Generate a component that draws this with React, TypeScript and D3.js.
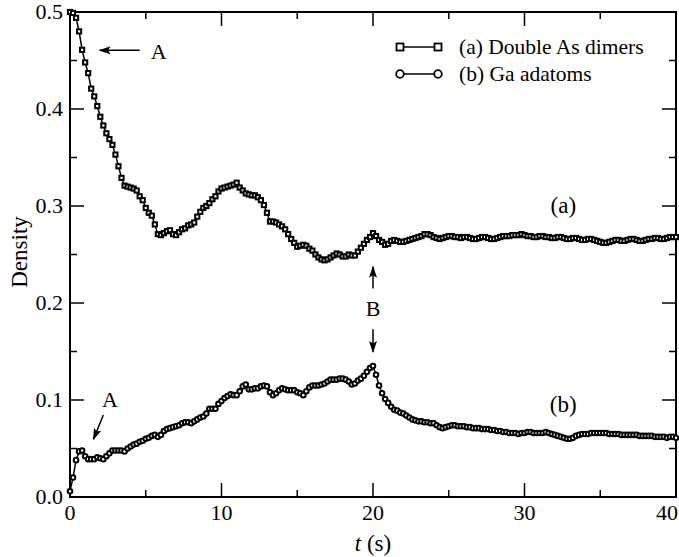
import React from "react";
import * as d3 from "d3";

// sampling step of both series (s)
const TIME_STEP = 0.2;

// (a) Double As dimers, t = 0 .. 40 s
const dimers = [
  0.500, 0.499, 0.494, 0.480, 0.461, 0.448, 0.437, 0.421, 0.413, 0.403,
  0.392, 0.383, 0.375, 0.369, 0.363, 0.353, 0.341, 0.329, 0.321, 0.320,
  0.319, 0.318, 0.316, 0.310, 0.306, 0.298, 0.293, 0.290, 0.281, 0.271,
  0.270, 0.272, 0.274, 0.275, 0.271, 0.270, 0.273, 0.276, 0.277, 0.280,
  0.281, 0.283, 0.289, 0.294, 0.298, 0.300, 0.303, 0.307, 0.310, 0.315,
  0.318, 0.319, 0.320, 0.321, 0.322, 0.324, 0.319, 0.316, 0.313, 0.312,
  0.311, 0.311, 0.309, 0.306, 0.301, 0.293, 0.284, 0.284, 0.283, 0.281,
  0.279, 0.276, 0.271, 0.266, 0.262, 0.258, 0.259, 0.260, 0.259, 0.256,
  0.254, 0.250, 0.247, 0.245, 0.244, 0.245, 0.247, 0.249, 0.251, 0.250,
  0.248, 0.248, 0.250, 0.249, 0.249, 0.253, 0.257, 0.261, 0.265, 0.268,
  0.272, 0.269, 0.265, 0.263, 0.260, 0.261, 0.264, 0.265, 0.264, 0.263,
  0.263, 0.264, 0.265, 0.266, 0.267, 0.268, 0.269, 0.271, 0.271, 0.270,
  0.268, 0.267, 0.266, 0.267, 0.268, 0.269, 0.269, 0.268, 0.268, 0.267,
  0.268, 0.268, 0.267, 0.266, 0.266, 0.267, 0.268, 0.268, 0.267, 0.266,
  0.266, 0.267, 0.268, 0.269, 0.269, 0.269, 0.270, 0.270, 0.270, 0.271,
  0.270, 0.269, 0.269, 0.268, 0.268, 0.269, 0.269, 0.268, 0.268, 0.267,
  0.267, 0.268, 0.268, 0.267, 0.266, 0.266, 0.267, 0.267, 0.266, 0.265,
  0.265, 0.266, 0.266, 0.265, 0.264, 0.263, 0.262, 0.262, 0.263, 0.264,
  0.265, 0.265, 0.264, 0.264, 0.265, 0.266, 0.266, 0.265, 0.264, 0.264,
  0.265, 0.266, 0.266, 0.267, 0.267, 0.266, 0.266, 0.267, 0.268, 0.268,
  0.268,
];

// (b) Ga adatoms, t = 0 .. 40 s
const adatoms = [
  0.006, 0.020, 0.038, 0.047, 0.048, 0.042, 0.039, 0.039, 0.039, 0.041,
  0.040, 0.039, 0.042, 0.045, 0.048, 0.048, 0.048, 0.048, 0.047, 0.050,
  0.052, 0.054, 0.055, 0.057, 0.058, 0.060, 0.061, 0.063, 0.064, 0.062,
  0.064, 0.068, 0.070, 0.071, 0.072, 0.073, 0.074, 0.076, 0.077, 0.077,
  0.076, 0.078, 0.080, 0.082, 0.083, 0.086, 0.091, 0.091, 0.091, 0.096,
  0.099, 0.102, 0.104, 0.106, 0.105, 0.105, 0.109, 0.114, 0.116, 0.111,
  0.111, 0.112, 0.112, 0.114, 0.115, 0.114, 0.108, 0.105, 0.107, 0.110,
  0.112, 0.111, 0.110, 0.110, 0.110, 0.108, 0.107, 0.105, 0.109, 0.113,
  0.115, 0.115, 0.115, 0.116, 0.117, 0.119, 0.121, 0.121, 0.121, 0.122,
  0.122, 0.121, 0.119, 0.116, 0.117, 0.120, 0.122, 0.125, 0.129, 0.133,
  0.135, 0.126, 0.115, 0.107, 0.101, 0.097, 0.093, 0.090, 0.089, 0.087,
  0.086, 0.084, 0.082, 0.080, 0.079, 0.078, 0.078, 0.077, 0.077, 0.076,
  0.076, 0.074, 0.072, 0.071, 0.072, 0.073, 0.074, 0.074, 0.073, 0.073,
  0.073, 0.072, 0.072, 0.071, 0.071, 0.071, 0.070, 0.070, 0.070, 0.069,
  0.069, 0.068, 0.068, 0.067, 0.067, 0.066, 0.066, 0.066, 0.065, 0.066,
  0.066, 0.067, 0.067, 0.066, 0.066, 0.066, 0.066, 0.067, 0.066, 0.065,
  0.064, 0.063, 0.062, 0.061, 0.060, 0.060, 0.061, 0.063, 0.064, 0.065,
  0.065, 0.065, 0.066, 0.066, 0.066, 0.066, 0.066, 0.066, 0.065, 0.065,
  0.065, 0.065, 0.064, 0.064, 0.064, 0.064, 0.064, 0.064, 0.063, 0.063,
  0.063, 0.063, 0.063, 0.062, 0.062, 0.062, 0.062, 0.061, 0.062, 0.062,
  0.061,
];

const xMajorTicks = [0, 10, 20, 30, 40];
const xMinorTicks = [5, 15, 25, 35];
const yMajorTicks = [0, 0.1, 0.2, 0.3, 0.4, 0.5];
const yMinorTicks = [0.05, 0.15, 0.25, 0.35, 0.45];
const yTickLabels = ["0.0", "0.1", "0.2", "0.3", "0.4", "0.5"];
const legendLabels = ["(a) Double As dimers", "(b) Ga adatoms"];
const curveLabels = ["(a)", "(b)"];

const FONT = "'Liberation Serif', 'DejaVu Serif', serif";

export default function App() {
  const W = 679;
  const H = 557;
  const x = d3.scaleLinear().domain([0, 40]).range([70, 676]);
  const y = d3.scaleLinear().domain([0, 0.5]).range([497, 12]);
  const x0 = x.range()[0], x1 = x.range()[1];
  const y0 = y.range()[0], y1 = y.range()[1];

  const ptsA = dimers.map((v, i) => [i * TIME_STEP, v] as [number, number]);
  const ptsB = adatoms.map((v, i) => [i * TIME_STEP, v] as [number, number]);
  const line = d3
    .line<[number, number]>()
    .x((d) => x(d[0]))
    .y((d) => y(d[1]));

  const MAJ = 14;
  const MIN = 7;
  const sq = 4.2;
  const TICK_FS = 22;

  const arrow = (xa: number, ya: number, xb: number, yb: number, key: string) => (
    <line
      key={key}
      x1={x(xa)}
      y1={y(ya)}
      x2={x(xb)}
      y2={y(yb)}
      stroke="#000"
      strokeWidth={1.5}
      markerEnd="url(#ah)"
    />
  );

  return (
    <svg
      width={W}
      height={H}
      style={{ position: "absolute", left: 0, top: 0, background: "#fff" }}
      fontFamily={FONT}
    >
      <defs>
        <marker
          id="ah"
          viewBox="0 0 12 8"
          refX="11"
          refY="4"
          markerWidth="12"
          markerHeight="8"
          markerUnits="userSpaceOnUse"
          orient="auto"
        >
          <path d="M0,0 L12,4 L0,8 L2.5,4 Z" fill="#000" />
        </marker>
      </defs>
      <rect x={0} y={0} width={W} height={H} fill="#fff" />

      {/* ticks */}
      <g stroke="#000" strokeWidth={1.5}>
        {xMajorTicks.map((t) => (
          <g key={"xm" + t}>
            <line x1={x(t)} x2={x(t)} y1={y0} y2={y0 - MAJ} />
            <line x1={x(t)} x2={x(t)} y1={y1} y2={y1 + MAJ} />
          </g>
        ))}
        {xMinorTicks.map((t) => (
          <g key={"xn" + t}>
            <line x1={x(t)} x2={x(t)} y1={y0} y2={y0 - MIN} />
            <line x1={x(t)} x2={x(t)} y1={y1} y2={y1 + MIN} />
          </g>
        ))}
        {yMajorTicks.map((t) => (
          <g key={"ym" + t}>
            <line x1={x0} x2={x0 + MAJ} y1={y(t)} y2={y(t)} />
            <line x1={x1} x2={x1 - MAJ} y1={y(t)} y2={y(t)} />
          </g>
        ))}
        {yMinorTicks.map((t) => (
          <g key={"yn" + t}>
            <line x1={x0} x2={x0 + MIN} y1={y(t)} y2={y(t)} />
            <line x1={x1} x2={x1 - MIN} y1={y(t)} y2={y(t)} />
          </g>
        ))}
      </g>

      {/* frame */}
      <rect
        x={x0}
        y={y1}
        width={x1 - x0}
        height={y0 - y1}
        fill="none"
        stroke="#000"
        strokeWidth={2}
      />

      {/* tick labels */}
      <g fontSize={TICK_FS} fill="#000">
        {xMajorTicks.map((t, i) => {
          const last = i === xMajorTicks.length - 1;
          return (
            <text
              key={"xl" + t}
              x={last ? W - 1 : x(t)}
              y={y0 + 23}
              textAnchor={last ? "end" : "middle"}
            >
              {t}
            </text>
          );
        })}
        {yMajorTicks.map((t, i) => (
          <text key={"yl" + t} x={x0 - 7} y={y(t) + 7} textAnchor="end">
            {yTickLabels[i]}
          </text>
        ))}
      </g>

      {/* axis titles */}
      <text
        x={(x0 + x1) / 2}
        y={551}
        fontSize={23}
        textAnchor="middle"
        fill="#000"
      >
        <tspan fontStyle="italic">t</tspan> (s)
      </text>
      <text
        transform={`translate(27,${252}) rotate(-90)`}
        fontSize={23}
        textAnchor="middle"
        fill="#000"
      >
        Density
      </text>

      {/* series a */}
      <path d={line(ptsA) || ""} fill="none" stroke="#000" strokeWidth={1.5} />
      <g fill="#fff" stroke="#000" strokeWidth={2}>
        {ptsA.map((p, i) => (
          <rect
            key={"a" + i}
            x={x(p[0]) - sq / 2}
            y={y(p[1]) - sq / 2}
            width={sq}
            height={sq}
          />
        ))}
      </g>

      {/* series b */}
      <path d={line(ptsB) || ""} fill="none" stroke="#000" strokeWidth={1.5} />
      <g fill="#fff" stroke="#000" strokeWidth={2}>
        {ptsB.map((p, i) => (
          <circle key={"b" + i} cx={x(p[0])} cy={y(p[1])} r={2.3} />
        ))}
      </g>

      {/* legend */}
      <g>
        <line x1={400} x2={438} y1={47} y2={47} stroke="#000" strokeWidth={1.4} />
        <rect x={400 - 3.5} y={47 - 3.5} width={7} height={7} fill="#fff" stroke="#000" strokeWidth={1.8} />
        <rect x={438 - 3.5} y={47 - 3.5} width={7} height={7} fill="#fff" stroke="#000" strokeWidth={1.8} />
        <text x={459} y={54} fontSize={21.5} fill="#000">
          {legendLabels[0]}
        </text>
        <line x1={400} x2={438} y1={74} y2={74} stroke="#000" strokeWidth={1.4} />
        <circle cx={400} cy={74} r={3.8} fill="#fff" stroke="#000" strokeWidth={1.8} />
        <circle cx={438} cy={74} r={3.8} fill="#fff" stroke="#000" strokeWidth={1.8} />
        <text x={459} y={81} fontSize={21.5} fill="#000">
          {legendLabels[1]}
        </text>
      </g>

      {/* curve labels */}
      <text x={x(32.56)} y={y(0.2928)} fontSize={23} textAnchor="middle" fill="#000">
        {curveLabels[0]}
      </text>
      <text x={x(32.56)} y={y(0.088)} fontSize={23} textAnchor="middle" fill="#000">
        {curveLabels[1]}
      </text>

      {/* annotations */}
      {arrow(4.6, 0.4605, 1.95, 0.4605, "arA")}
      <text x={x(5.85)} y={y(0.452)} fontSize={22} textAnchor="middle" fill="#000">
        A
      </text>
      {arrow(2.2, 0.0845, 1.55, 0.0595, "arA2")}
      <text x={x(2.64)} y={y(0.093)} fontSize={22} textAnchor="middle" fill="#000">
        A
      </text>
      {arrow(20, 0.215, 20, 0.2375, "arB1")}
      {arrow(20, 0.173, 20, 0.1495, "arB2")}
      <text x={x(20)} y={y(0.187)} fontSize={22} textAnchor="middle" fill="#000">
        B
      </text>
    </svg>
  );
}
